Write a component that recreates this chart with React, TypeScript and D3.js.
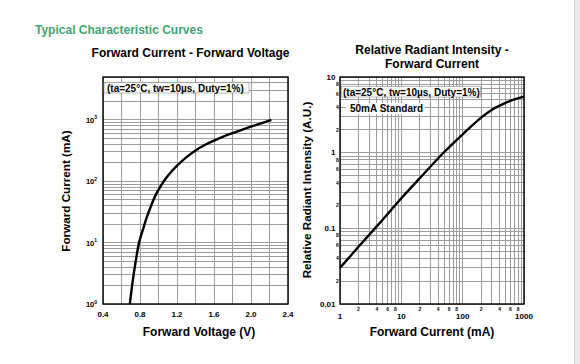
import React from "react";
import { scaleLinear, scaleLog, line, curveCatmullRom, range } from "d3";

const width = 580;
const height = 364;
const font = "'Liberation Sans', Arial, sans-serif";
const green = "#3fa574";
const gridColor = "#9c9c9c";

// Forward Current - Forward Voltage
const fvVoltage = [0.69, 0.72, 0.75, 0.79, 0.83, 0.87, 0.92, 0.97, 1.02, 1.08, 1.15, 1.22, 1.3, 1.4, 1.5, 1.6, 1.7, 1.8, 1.9, 2.0, 2.1, 2.22];
const fvCurrent = [1, 2.3, 4.6, 10, 16, 25, 40, 60, 82, 112, 150, 192, 245, 318, 390, 460, 535, 610, 690, 775, 870, 1000];
const fvXTicks = [0.4, 0.8, 1.2, 1.6, 2.0, 2.4];
const fvXTickLabels = ["0.4", "0.8", "1.2", "1.6", "2.0", "2.4"];
const fvYTicks = [1, 10, 100, 1000];
const fvYExp = ["0", "1", "2", "3"];

// Relative Radiant Intensity - Forward Current
const riCurrent = [1, 2, 5, 10, 20, 50, 100, 200, 300, 500, 700, 1000];
const riIntensity = [0.03, 0.057, 0.131, 0.25, 0.46, 1.02, 1.75, 2.9, 3.7, 4.55, 5.05, 5.5];
const riXMajor = [1, 10, 100, 1000];
const riXMajorLabels = ["1", "10", "100", "1000"];
const riYMajor = [0.01, 0.1, 1, 10];
const riYMajorLabels = ["0.01", "0.1", "1", "10"];
const minorLabels = [2, 4, 6, 8];

const legendText = "(ta=25°C, tw=10µs, Duty=1%)";

const logGrid = (lo: number, hi: number) => {
  const out: number[] = [];
  for (let e = lo; e < hi; e++) {
    for (let m = 1; m <= 9; m++) out.push(m * Math.pow(10, e));
  }
  out.push(Math.pow(10, hi));
  return out;
};

const LeftChart = () => {
  const x = scaleLinear().domain([0.4, 2.4]).range([103, 288]);
  const y = scaleLog().domain([1, 5000]).range([304, 77]);
  const yGrid = logGrid(0, 3).concat([2000, 3000, 4000, 5000]);
  const xGrid = range(0.4, 2.41, 0.2);
  const path = line<number>()
    .x((d) => x(d))
    .y((_, i) => y(fvCurrent[i]))
    .curve(curveCatmullRom.alpha(0.5))(fvVoltage);
  return (
    <g>
      <text x={190.5} y={57} textAnchor="middle" fontWeight="bold" fontSize={12}>
        Forward Current - Forward Voltage
      </text>
      <g shapeRendering="crispEdges">
        {xGrid.map((v, i) => (
          <line key={"vx" + i} x1={x(v)} x2={x(v)} y1={77} y2={304} stroke={gridColor} strokeWidth={1} />
        ))}
        {yGrid.map((v, i) => (
          <line key={"hy" + i} x1={103} x2={288} y1={y(v)} y2={y(v)} stroke={gridColor} strokeWidth={1} />
        ))}
      </g>
      <rect x={103} y={77} width={185} height={227} fill="none" stroke="#000" strokeWidth={1.4} />
      <rect x={104} y={82.5} width={145} height={10.5} fill="#fff" stroke="#888" strokeWidth={0.6} />
      <text x={107} y={91.5} fontSize={10} fontWeight="bold">{legendText}</text>
      <path d={path || ""} fill="none" stroke="#000" strokeWidth={2.4} />
      {fvXTicks.map((v, i) => (
        <text key={"xl" + i} x={x(v)} y={316.5} textAnchor="middle" fontSize={8} fontWeight="bold">
          {fvXTickLabels[i]}
        </text>
      ))}
      {fvYTicks.map((v, i) => (
        <text key={"yl" + i} x={97} y={y(v) + 3} textAnchor="end" fontSize={7.5} fontWeight="bold">
          10<tspan dy={-3.5} fontSize={5}>{fvYExp[i]}</tspan>
        </text>
      ))}
      <text x={199} y={336} textAnchor="middle" fontWeight="bold" fontSize={12}>
        Forward Voltage (V)
      </text>
      <text transform="translate(70,191) rotate(-90)" textAnchor="middle" fontWeight="bold" fontSize={11.7}>
        Forward Current (mA)
      </text>
    </g>
  );
};

const RightChart = () => {
  const x = scaleLog().domain([1, 1000]).range([340, 524]);
  const y = scaleLog().domain([0.01, 10]).range([304, 77]);
  const xGrid = logGrid(0, 3);
  const yGrid = logGrid(-2, 1);
  const path = line<number>()
    .x((d) => x(d))
    .y((_, i) => y(riIntensity[i]))
    .curve(curveCatmullRom.alpha(0.5))(riCurrent);
  const decadesX = [1, 10, 100];
  const decadesY = [0.01, 0.1, 1];
  return (
    <g>
      <text x={432} y={54} textAnchor="middle" fontWeight="bold" fontSize={12}>
        Relative Radiant Intensity -
      </text>
      <text x={432} y={67.5} textAnchor="middle" fontWeight="bold" fontSize={12}>
        Forward Current
      </text>
      <g shapeRendering="crispEdges">
        {xGrid.map((v, i) => (
          <line key={"vx" + i} x1={x(v)} x2={x(v)} y1={77} y2={304} stroke={gridColor} strokeWidth={1} />
        ))}
        {yGrid.map((v, i) => (
          <line key={"hy" + i} x1={340} x2={524} y1={y(v)} y2={y(v)} stroke={gridColor} strokeWidth={1} />
        ))}
      </g>
      <rect x={340} y={77} width={184} height={227} fill="none" stroke="#000" strokeWidth={1.4} />
      <rect x={341.5} y={86.5} width={139} height={10.5} fill="#fff" stroke="#888" strokeWidth={0.6} />
      <text x={343} y={95.5} fontSize={10} fontWeight="bold">{legendText}</text>
      <rect x={346} y={103} width={79} height={11} fill="#fff" />
      <text x={350} y={112} fontSize={10} fontWeight="bold">50mA Standard</text>
      <path d={path || ""} fill="none" stroke="#000" strokeWidth={2.4} />
      {riXMajor.map((v, i) => (
        <text key={"xl" + i} x={x(v)} y={318.5} textAnchor="middle" fontSize={8} fontWeight="bold">
          {riXMajorLabels[i]}
        </text>
      ))}
      {decadesX.map((d) =>
        minorLabels.map((m) => (
          <text key={"xm" + d + m} x={x(d * m)} y={311} textAnchor="middle" fontSize={5} fontWeight="bold">
            {m}
          </text>
        ))
      )}
      {riYMajor.map((v, i) => (
        <text key={"yl" + i} x={335.5} y={y(v) + 2.8} textAnchor="end" fontSize={8} fontWeight="bold">
          {riYMajorLabels[i]}
        </text>
      ))}
      {decadesY.map((d) =>
        minorLabels.map((m) => (
          <text key={"ym" + d + m} x={337.5} y={y(d * m) + 1.8} textAnchor="middle" fontSize={5} fontWeight="bold">
            {m}
          </text>
        ))
      )}
      <text x={432} y={336} textAnchor="middle" fontWeight="bold" fontSize={12}>
        Forward Current (mA)
      </text>
      <text transform="translate(311,190) rotate(-90)" textAnchor="middle" fontWeight="bold" fontSize={11.7}>
        Relative Radiant Intensity (A.U.)
      </text>
    </g>
  );
};

export default function App() {
  return (
    <svg
      width={width}
      height={height}
      style={{ position: "absolute", left: 0, top: 0, background: "#fff" }}
      fontFamily={font}
    >
      <rect width={width} height={height} fill="#fff" />
      <text x={35} y={34} fill={green} fontWeight="bold" fontSize={12}>
        Typical Characteristic Curves
      </text>
      <LeftChart />
      <RightChart />
      <rect x={574} y={0} width={6} height={height} fill="#e8e8e8" />
      <line x1={574.5} x2={574.5} y1={0} y2={height} stroke="#cfcfcf" />
    </svg>
  );
}
